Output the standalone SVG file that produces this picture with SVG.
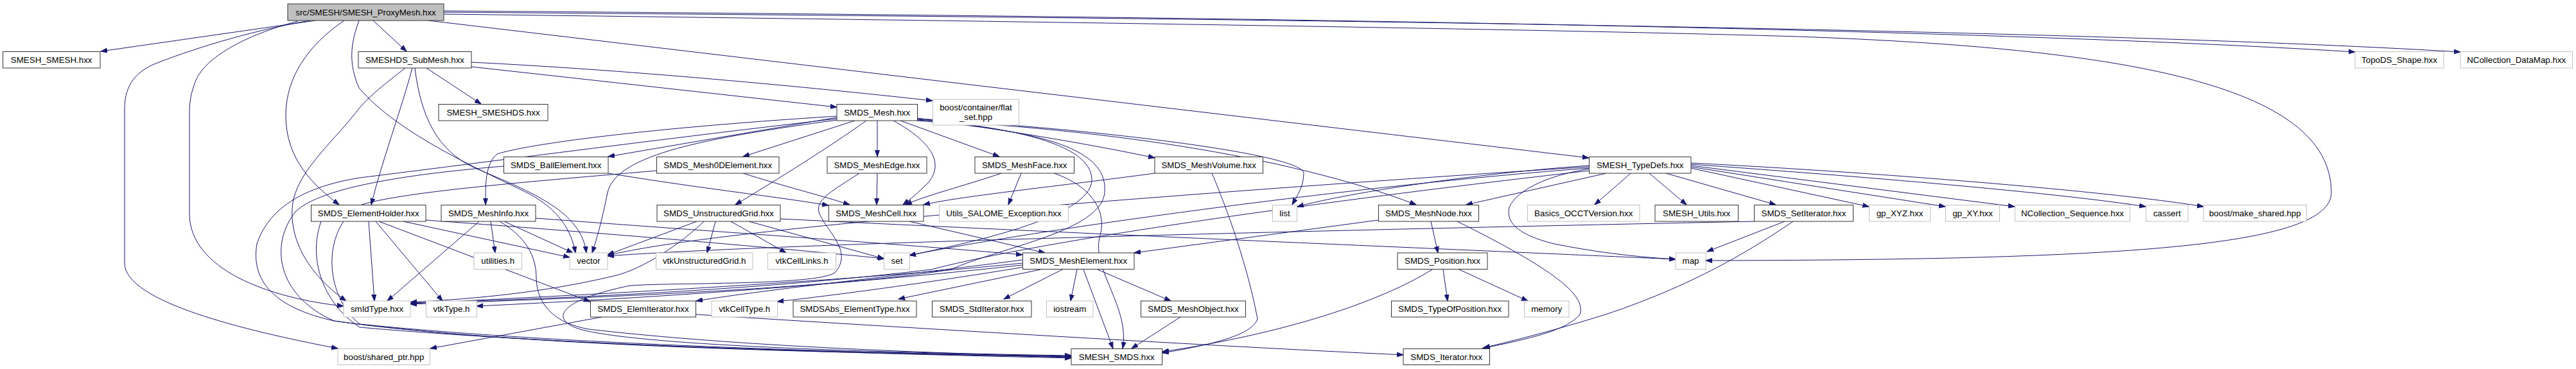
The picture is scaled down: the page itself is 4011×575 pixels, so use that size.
<svg xmlns="http://www.w3.org/2000/svg" width="4011" height="575" viewBox="0 0 4011 575">
<style>
.n rect{fill:#ffffff;stroke:#333333;stroke-width:1}
.x rect{fill:#ffffff;stroke:#bfbfbf;stroke-width:1}
.r rect{fill:#bfbfbf;stroke:#333333;stroke-width:1}
text{font-family:"Liberation Sans",Arial,Helvetica,sans-serif;font-size:13.33px;text-anchor:middle;fill:#000000}
#edges path{fill:none;stroke:#191970;stroke-width:1;marker-end:url(#a)}
</style>
<defs>
<marker id="a" markerWidth="11" markerHeight="9" refX="10" refY="4" orient="auto" markerUnits="userSpaceOnUse">
<path d="M0,0.5 L10,4 L0,7.5 z" fill="#191970" stroke="#191970" stroke-width="1"/>
</marker>
</defs>
<rect x="0" y="0" width="4011" height="575" fill="#ffffff"/>
<g id="edges">
<path d="M491,32 L157,80"/>
<path d="M581,32 L633,80"/>
<path d="M536,32 C480,70 445,120 445,180 C445,250 490,290 528,319"/>
<path d="M482,32 C380,50 290,80 240,100 C205,115 194,140 194,170 L194,410 C194,470 380,515 526,543"/>
<path d="M464,33 C380,55 320,90 305,125 C297,145 295,160 295,175 L295,333 C295,420 420,465 535,477"/>
<path d="M559,32 C545,70 543,100 559,137 C620,210 760,270 820,300 C870,325 890,360 896,394"/>
<path d="M667,32 L2474,246"/>
<path d="M691,17 C1700,24 3000,40 3667,81"/>
<path d="M691,19 C1800,27 3200,43 3831,81"/>
<path d="M691,22 C1500,32 2400,45 2800,57 C3300,75 3630,130 3630,300 C3630,385 3300,405 2656,406"/>
<path d="M664,106 L749,162"/>
<path d="M734,104 L1303,167"/>
<path d="M734,97 C1000,110 1300,140 1452,157"/>
<path d="M642,106 C625,170 595,250 578,319"/>
<path d="M631,106 C600,130 575,150 560,168 C520,220 470,260 457,310 C447,360 470,420 539,469"/>
<path d="M646,106 C655,180 680,235 740,262 C830,300 905,330 913,394"/>
<path d="M1303,183 L947,244"/>
<path d="M1331,188 L1157,244"/>
<path d="M1349,188 C1290,230 1210,280 1145,319"/>
<path d="M1366,188 L1366,244"/>
<path d="M1391,188 C1440,215 1475,250 1445,285 C1430,300 1418,310 1406,319"/>
<path d="M1402,188 L1556,244"/>
<path d="M1428,184 C1550,200 1700,225 1798,246"/>
<path d="M1303,181 C1000,200 820,225 774,240 C755,255 756,290 756,319"/>
<path d="M1303,187 C1100,215 960,240 946,300 C938,340 930,370 922,394"/>
<path d="M1303,185 C1000,220 700,260 560,277 C480,290 420,320 400,380 C390,440 430,480 520,500 C800,540 1300,548 1668,555"/>
<path d="M1428,185 C1700,200 2030,240 2030,270 C2030,290 2020,305 2012,319"/>
<path d="M1428,187 C1700,200 2000,240 2205,319"/>
<path d="M1428,186 C1600,200 1700,230 1700,280 C1700,340 1500,380 1416,398"/>
<path d="M1428,188 C1650,205 1725,240 1720,300 C1715,360 1560,385 1480,420 C1300,450 900,465 639,474"/>
<path d="M947,270 C1100,295 1200,305 1290,320"/>
<path d="M784,259 C650,270 500,290 460,330 C420,380 430,460 520,500 C800,540 1300,550 1668,556"/>
<path d="M1157,270 C1220,290 1280,305 1323,319"/>
<path d="M1022,266 C800,285 620,300 560,320 C500,360 505,460 560,505 C900,540 1400,550 1668,557"/>
<path d="M1366,270 L1365,319"/>
<path d="M1338,270 C1300,295 1270,310 1275,330 C1285,360 1330,390 1300,425 C1270,445 1050,440 981,445 C860,470 860,500 903,513 C1000,540 1400,550 1668,554"/>
<path d="M1559,270 C1500,290 1440,305 1410,319"/>
<path d="M1590,270 L1570,319"/>
<path d="M1641,270 C1700,290 1725,330 1712,370 C1700,420 1760,480 1748,543"/>
<path d="M1798,270 C1650,290 1500,305 1438,319"/>
<path d="M1887,270 C1900,300 1940,400 1958,497 C1950,520 1900,535 1810,550"/>
<path d="M746,345 L603,469"/>
<path d="M764,345 L771,394"/>
<path d="M785,345 L892,394"/>
<path d="M834,340 C1100,360 1400,380 1592,397"/>
<path d="M778,345 C820,370 835,400 835,433 C836,480 870,505 917,513 C1150,540 1450,550 1668,556"/>
<path d="M574,345 L583,469"/>
<path d="M585,345 L689,469"/>
<path d="M590,345 L919,470"/>
<path d="M628,345 L887,401"/>
<path d="M663,343 C900,360 1200,385 1377,403"/>
<path d="M500,345 C480,400 500,470 560,510 C900,540 1400,552 1668,558"/>
<path d="M1085,345 L946,397"/>
<path d="M1096,345 C1060,380 1000,420 956,430 C850,455 750,465 639,471"/>
<path d="M1114,345 L1101,394"/>
<path d="M1138,345 L1224,394"/>
<path d="M1166,345 L1376,403"/>
<path d="M1215,341 C1700,365 2300,390 2609,404"/>
<path d="M1416,345 L1627,394"/>
<path d="M1592,410 C1300,440 900,460 639,473"/>
<path d="M1592,413 C1300,445 1000,465 742,477"/>
<path d="M1592,405 C1400,430 1200,450 1084,469"/>
<path d="M1595,416 C1450,440 1300,460 1210,470"/>
<path d="M1620,420 L1399,466"/>
<path d="M1654,420 L1563,466"/>
<path d="M1677,420 L1667,469"/>
<path d="M1687,420 L1733,543"/>
<path d="M1709,420 L1823,469"/>
<path d="M1838,494 L1762,543"/>
<path d="M937,494 L670,543"/>
<path d="M1084,490 C1400,510 1900,540 2185,553"/>
<path d="M2146,343 L1766,394"/>
<path d="M2228,345 L2239,394"/>
<path d="M2269,345 C2420,420 2470,460 2460,490 C2440,515 2380,528 2308,543"/>
<path d="M2247,420 L2254,469"/>
<path d="M2272,420 L2379,469"/>
<path d="M2230,420 C2150,470 2000,520 1810,548"/>
<path d="M2779,345 L2658,392"/>
<path d="M2792,345 C2740,380 2650,440 2500,490 C2420,515 2360,530 2310,542"/>
<path d="M2731,345 C2000,360 1200,380 946,399"/>
<path d="M2501,270 L2283,319"/>
<path d="M2539,270 L2483,319"/>
<path d="M2568,270 L2626,319"/>
<path d="M2594,270 L2765,319"/>
<path d="M2633,262 L2910,322"/>
<path d="M2633,260 L3029,322"/>
<path d="M2633,258 L3137,322"/>
<path d="M2633,256 C2900,275 3200,300 3341,322"/>
<path d="M2633,254 C2950,270 3300,300 3431,322"/>
<path d="M2475,263 C2400,275 2360,300 2350,323 C2345,345 2360,365 2420,380 C2480,392 2540,400 2609,404"/>
<path d="M2474,258 C2300,270 2100,300 2020,322"/>
<path d="M2474,260 C2000,290 1500,330 1300,350 C1100,370 1000,385 946,398"/>
<path d="M2474,262 C2100,290 1600,360 1416,398"/>
<path d="M2474,266 C2000,320 1600,380 1450,420 C1200,450 900,465 639,472"/>
</g>
<g id="n-proxy" class="r"><rect x="448" y="6" width="243" height="26"/><text x="569.5" y="23.5">src/SMESH/SMESH_ProxyMesh.hxx</text></g>
<g id="n-smeshSmesh" class="n"><rect x="4.5" y="80.5" width="151.5" height="25.5"/><text x="80.2" y="97.8">SMESH_SMESH.hxx</text></g>
<g id="n-subMesh" class="n"><rect x="558" y="80.5" width="176" height="25.5"/><text x="646" y="97.8">SMESHDS_SubMesh.hxx</text></g>
<g id="n-topods" class="x"><rect x="3667" y="80.5" width="138" height="25.5"/><text x="3736" y="97.8">TopoDS_Shape.hxx</text></g>
<g id="n-datamap" class="x"><rect x="3831" y="80.5" width="174.5" height="25.5"/><text x="3918.2" y="97.8">NCollection_DataMap.hxx</text></g>
<g id="n-smeshds" class="n"><rect x="683" y="162.5" width="170" height="25.5"/><text x="768" y="179.8">SMESH_SMESHDS.hxx</text></g>
<g id="n-smdsMesh" class="n"><rect x="1303" y="162.5" width="125.5" height="25.5"/><text x="1365.7" y="179.8">SMDS_Mesh.hxx</text></g>
<g id="n-flatset" class="x"><rect x="1452.5" y="155" width="134" height="40"/><text x="1519.5" y="171.5">boost/container/flat</text><text x="1519.5" y="186.5">_set.hpp</text></g>
<g id="n-ball" class="n"><rect x="784.5" y="244.5" width="162.5" height="25.5"/><text x="865.7" y="261.8">SMDS_BallElement.hxx</text></g>
<g id="n-mesh0d" class="n"><rect x="1022.5" y="244.5" width="190.5" height="25.5"/><text x="1117.7" y="261.8">SMDS_Mesh0DElement.hxx</text></g>
<g id="n-edge" class="n"><rect x="1288" y="244.5" width="155" height="25.5"/><text x="1365.5" y="261.8">SMDS_MeshEdge.hxx</text></g>
<g id="n-face" class="n"><rect x="1518" y="244.5" width="154.5" height="25.5"/><text x="1595.2" y="261.8">SMDS_MeshFace.hxx</text></g>
<g id="n-volume" class="n"><rect x="1798" y="244.5" width="168.5" height="25.5"/><text x="1882.2" y="261.8">SMDS_MeshVolume.hxx</text></g>
<g id="n-typedefs" class="n"><rect x="2474.5" y="244.5" width="158.5" height="25.5"/><text x="2553.7" y="261.8">SMESH_TypeDefs.hxx</text></g>
<g id="n-elemHolder" class="n"><rect x="484.5" y="319.5" width="178.5" height="25.5"/><text x="573.7" y="336.8">SMDS_ElementHolder.hxx</text></g>
<g id="n-meshInfo" class="n"><rect x="687" y="319.5" width="147" height="25.5"/><text x="760.5" y="336.8">SMDS_MeshInfo.hxx</text></g>
<g id="n-ugrid" class="n"><rect x="1023" y="319.5" width="192" height="25.5"/><text x="1119" y="336.8">SMDS_UnstructuredGrid.hxx</text></g>
<g id="n-meshCell" class="n"><rect x="1290.5" y="319.5" width="147.5" height="25.5"/><text x="1364.2" y="336.8">SMDS_MeshCell.hxx</text></g>
<g id="n-utilsExc" class="x"><rect x="1462.5" y="319.5" width="201" height="25.5"/><text x="1563" y="336.8">Utils_SALOME_Exception.hxx</text></g>
<g id="n-list" class="x"><rect x="1981.5" y="319.5" width="38" height="25.5"/><text x="2000.5" y="336.8">list</text></g>
<g id="n-meshNode" class="n"><rect x="2146.5" y="319.5" width="156" height="25.5"/><text x="2224.5" y="336.8">SMDS_MeshNode.hxx</text></g>
<g id="n-occt" class="x"><rect x="2378.5" y="319.5" width="174.5" height="25.5"/><text x="2465.7" y="336.8">Basics_OCCTVersion.hxx</text></g>
<g id="n-utils" class="n"><rect x="2577" y="319.5" width="129.5" height="25.5"/><text x="2641.7" y="336.8">SMESH_Utils.hxx</text></g>
<g id="n-setIter" class="n"><rect x="2731.5" y="319.5" width="154" height="25.5"/><text x="2808.5" y="336.8">SMDS_SetIterator.hxx</text></g>
<g id="n-gpxyz" class="x"><rect x="2910.5" y="319.5" width="95" height="25.5"/><text x="2958" y="336.8">gp_XYZ.hxx</text></g>
<g id="n-gpxy" class="x"><rect x="3029.5" y="319.5" width="84" height="25.5"/><text x="3071.5" y="336.8">gp_XY.hxx</text></g>
<g id="n-ncseq" class="x"><rect x="3137.5" y="319.5" width="179" height="25.5"/><text x="3227" y="336.8">NCollection_Sequence.hxx</text></g>
<g id="n-cassert" class="x"><rect x="3341.5" y="319.5" width="65.5" height="25.5"/><text x="3374.2" y="336.8">cassert</text></g>
<g id="n-makeShared" class="x"><rect x="3431" y="319.5" width="160.5" height="25.5"/><text x="3511.2" y="336.8">boost/make_shared.hpp</text></g>
<g id="n-utilities" class="x"><rect x="738" y="394" width="74.5" height="25.5"/><text x="775.2" y="411.3">utilities.h</text></g>
<g id="n-vector" class="x"><rect x="887" y="394" width="59" height="25.5"/><text x="916.5" y="411.3">vector</text></g>
<g id="n-vtkUG" class="x"><rect x="1021.5" y="394" width="150.5" height="25.5"/><text x="1096.7" y="411.3">vtkUnstructuredGrid.h</text></g>
<g id="n-vtkCellLinks" class="x"><rect x="1195.5" y="394" width="106" height="25.5"/><text x="1248.5" y="411.3">vtkCellLinks.h</text></g>
<g id="n-set" class="x"><rect x="1376.5" y="394" width="40" height="25.5"/><text x="1396.5" y="411.3">set</text></g>
<g id="n-meshElement" class="n"><rect x="1592.5" y="394" width="173.5" height="25.5"/><text x="1679.2" y="411.3">SMDS_MeshElement.hxx</text></g>
<g id="n-position" class="n"><rect x="2176" y="394" width="140" height="25.5"/><text x="2246" y="411.3">SMDS_Position.hxx</text></g>
<g id="n-map" class="x"><rect x="2609" y="394" width="47" height="25.5"/><text x="2632.5" y="411.3">map</text></g>
<g id="n-smIdType" class="x"><rect x="535" y="469" width="104" height="25"/><text x="587" y="486">smIdType.hxx</text></g>
<g id="n-vtkType" class="x"><rect x="663.5" y="469" width="79" height="25"/><text x="703" y="486">vtkType.h</text></g>
<g id="n-elemIter" class="n"><rect x="919.5" y="469" width="164" height="25"/><text x="1001.5" y="486">SMDS_ElemIterator.hxx</text></g>
<g id="n-vtkCellType" class="x"><rect x="1108" y="469" width="102.5" height="25"/><text x="1159.2" y="486">vtkCellType.h</text></g>
<g id="n-absType" class="n"><rect x="1235" y="469" width="192" height="25"/><text x="1331" y="486">SMDSAbs_ElementType.hxx</text></g>
<g id="n-stdIter" class="n"><rect x="1451.5" y="469" width="154.5" height="25"/><text x="1528.7" y="486">SMDS_StdIterator.hxx</text></g>
<g id="n-iostream" class="x"><rect x="1629.5" y="469" width="72.5" height="25"/><text x="1665.7" y="486">iostream</text></g>
<g id="n-meshObject" class="n"><rect x="1776.5" y="469" width="163" height="25"/><text x="1858" y="486">SMDS_MeshObject.hxx</text></g>
<g id="n-typeOfPos" class="n"><rect x="2166.5" y="469" width="182.5" height="25"/><text x="2257.7" y="486">SMDS_TypeOfPosition.hxx</text></g>
<g id="n-memory" class="x"><rect x="2373.5" y="469" width="69.5" height="25"/><text x="2408.2" y="486">memory</text></g>
<g id="n-sharedPtr" class="x"><rect x="526" y="543.5" width="143.5" height="25"/><text x="597.7" y="560.5">boost/shared_ptr.hpp</text></g>
<g id="n-smeshSmds" class="n"><rect x="1668" y="543.5" width="141.5" height="25"/><text x="1738.7" y="560.5">SMESH_SMDS.hxx</text></g>
<g id="n-smdsIter" class="n"><rect x="2185" y="543.5" width="134.5" height="25"/><text x="2252.2" y="560.5">SMDS_Iterator.hxx</text></g>
</svg>
